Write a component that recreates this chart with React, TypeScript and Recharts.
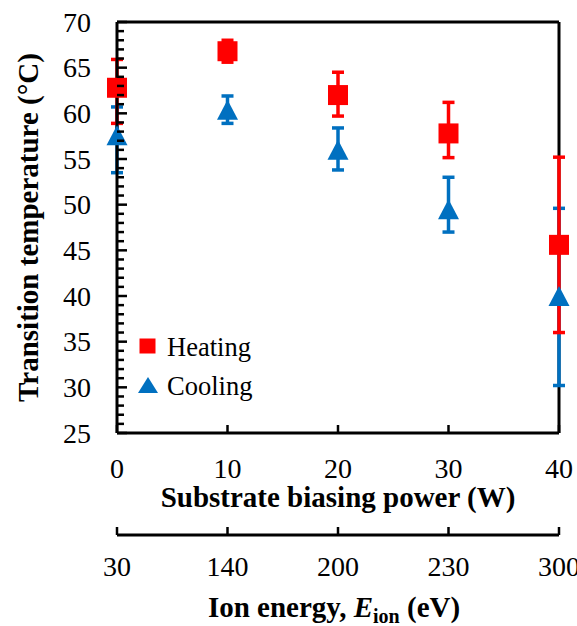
import React from 'react';
import { ScatterChart, Scatter, XAxis, YAxis, ErrorBar, ReferenceLine, Legend, Label } from 'recharts';

const powers = [0, 10, 20, 30, 40];
const ionEnergies = [30, 140, 200, 230, 300];
const heating = [62.8, 66.8, 62.0, 57.8, 45.6];
const heatingErr = [[3.9, 3.1], [1.2, 1.2], [2.3, 2.5], [2.65, 3.4], [9.6, 9.6]];
const cooling = [57.6, 60.4, 56.0, 49.5, 40.0];
const coolingErr = [[4.1, 3.1], [1.5, 1.5], [2.2, 2.4], [2.5, 3.5], [9.8, 9.6]];
const yMajorTicks = [25, 30, 35, 40, 45, 50, 55, 60, 65, 70];
const yAllTicks = [25, 26, 27, 28, 29, 30, 31, 32, 33, 34, 35, 36, 37, 38, 39, 40, 41, 42, 43, 44, 45, 46, 47, 48, 49, 50, 51, 52, 53, 54, 55, 56, 57, 58, 59, 60, 61, 62, 63, 64, 65, 66, 67, 68, 69, 70];
const seriesNames = ['Heating', 'Cooling'];

const RED = '#FF0000';
const BLUE = '#0070C0';
const FONT = "'Liberation Serif', 'Times New Roman', serif";

const heatData = powers.map((x, i) => ({ x, y: heating[i], err: heatingErr[i] }));
const coolData = powers.map((x, i) => ({ x, y: cooling[i], err: coolingErr[i] }));

const T = (p: any) => {
  const { size, bold, children, ...rest } = p;
  return (
    <text {...rest} fontFamily="Liberation Serif" fontSize={size} fontWeight={bold ? 'bold' : 'normal'} style={{ fontFamily: FONT, fontSize: size }} fill="#000">
      {children}
    </text>
  );
};

const YTick = (props: any) => {
  const { x, y, payload } = props;
  const v = payload.value;
  const major = yMajorTicks.includes(v);
  return (
    <g>
      <line x1={x} x2={x + (major ? 10 : 7)} y1={y} y2={y} stroke="#000" strokeWidth={2.5} />
      {major && (
        <T x={x - 26} y={y + 9.5} textAnchor="end" size={28}>
          {v}
        </T>
      )}
    </g>
  );
};

const XTick = (props: any) => {
  const { x, y, payload } = props;
  return (
    <g>
      <line x1={x} x2={x} y1={y} y2={y - 8} stroke="#000" strokeWidth={2.5} />
      <T x={x} y={y + 45} textAnchor="middle" size={28}>
        {payload.value}
      </T>
    </g>
  );
};

const IonTick = (props: any) => {
  const { x, y, payload } = props;
  const label = ionEnergies[powers.indexOf(payload.value)];
  return (
    <g>
      <line x1={x} x2={x} y1={y} y2={y - 8} stroke="#000" strokeWidth={2.5} />
      <T x={x} y={y + 41} textAnchor="middle" size={28}>
        {label}
      </T>
    </g>
  );
};

const YTitle = (props: any) => {
  const vb = props.viewBox || { x: 0, y: 22, width: 117, height: 411 };
  const cx = vb.x + 28;
  const cy = vb.y + vb.height / 2;
  return (
    <T x={cx} y={cy + 10} transform={`rotate(-90 ${cx} ${cy})`} textAnchor="middle" size={29} bold>
      Transition temperature (°C)
    </T>
  );
};

const XTitle = (props: any) => {
  const vb = props.viewBox || { x: 117, y: 433, width: 442, height: 102 };
  return (
    <T x={vb.x + vb.width / 2} y={vb.y + 74} textAnchor="middle" size={29} bold>
      Substrate biasing power (W)
    </T>
  );
};

const IonTitle = (props: any) => {
  const vb = props.viewBox || { x: 117, y: 535, width: 442, height: 91 };
  return (
    <T x={vb.x + vb.width / 2 - 4} y={vb.y + 82} textAnchor="middle" size={29} bold>
      <tspan>Ion energy, </tspan>
      <tspan fontStyle="italic">E</tspan>
      <tspan fontSize={20} dy={6}>ion</tspan>
      <tspan dy={-6}> (eV)</tspan>
    </T>
  );
};

const SquareShape = (props: any) => {
  const { cx, cy } = props;
  return <rect x={cx - 10} y={cy - 10} width={20} height={20} fill={RED} />;
};

const TriangleShape = (props: any) => {
  const { cx, cy } = props;
  return <polygon points={`${cx},${cy - 10} ${cx - 10.5},${cy + 10} ${cx + 10.5},${cy + 10}`} fill={BLUE} />;
};

const LegendContent = (props: any) => {
  const payload = props.payload || [];
  const names = seriesNames.filter((n) => payload.some((p: any) => p.value === n));
  const list = names.length ? names : seriesNames;
  return (
    <svg width={140} height={80} style={{ overflow: 'visible', display: 'block' }}>
      {list.map((name, i) => {
        const cy = 21 + i * 39;
        return (
          <g key={name}>
            {name === 'Heating' ? (
              <rect x={9.5} y={cy - 7.5} width={16} height={15} fill={RED} />
            ) : (
              <polygon points={`18,${cy - 8} 8,${cy + 8} 28,${cy + 8}`} fill={BLUE} />
            )}
            <T x={37} y={cy + 10} size={26.5}>
              {name}
            </T>
          </g>
        );
      })}
    </svg>
  );
};

export default function App() {
  return (
    <div style={{ position: 'absolute', left: 0, top: 0, background: '#fff' }}>
      <ScatterChart width={577} height={626} margin={{ top: 22, right: 18, bottom: 0, left: 0 }}>
        <XAxis
          xAxisId={0}
          dataKey="x"
          type="number"
          domain={[0, 40]}
          ticks={powers}
          tick={XTick}
          tickSize={0}
          tickMargin={0}
          tickLine={false}
          height={102}
          axisLine={{ stroke: '#000', strokeWidth: 3 }}
        >
          <Label content={XTitle} />
        </XAxis>
        <XAxis
          xAxisId="ion"
          dataKey="x"
          type="number"
          domain={[0, 40]}
          allowDataOverflow
          ticks={powers}
          tick={IonTick}
          tickSize={0}
          tickMargin={0}
          tickLine={false}
          height={91}
          axisLine={{ stroke: '#000', strokeWidth: 3 }}
        >
          <Label content={IonTitle} />
        </XAxis>
        <YAxis
          dataKey="y"
          type="number"
          domain={[25, 70]}
          ticks={yAllTicks}
          interval={0}
          tick={YTick}
          tickSize={0}
          tickMargin={0}
          tickLine={false}
          width={117}
          axisLine={{ stroke: '#000', strokeWidth: 3 }}
        >
          <Label content={YTitle} />
        </YAxis>
        <ReferenceLine y={70} stroke="#000" strokeWidth={3} />
        <ReferenceLine x={40} stroke="#000" strokeWidth={3} />
        <Legend
          layout="vertical"
          align="center"
          verticalAlign="middle"
          content={LegendContent}
          wrapperStyle={{ position: 'absolute', left: 130, top: 325, width: 140, height: 80 }}
        />
        <Scatter name="Cooling" data={coolData} fill={BLUE} shape={TriangleShape} isAnimationActive={false}>
          <ErrorBar dataKey="err" direction="y" width={6} stroke={BLUE} strokeWidth={3.5} />
        </Scatter>
        <Scatter name="Heating" data={heatData} fill={RED} shape={SquareShape} isAnimationActive={false}>
          <ErrorBar dataKey="err" direction="y" width={6} stroke={RED} strokeWidth={3.5} />
        </Scatter>
      </ScatterChart>
    </div>
  );
}
